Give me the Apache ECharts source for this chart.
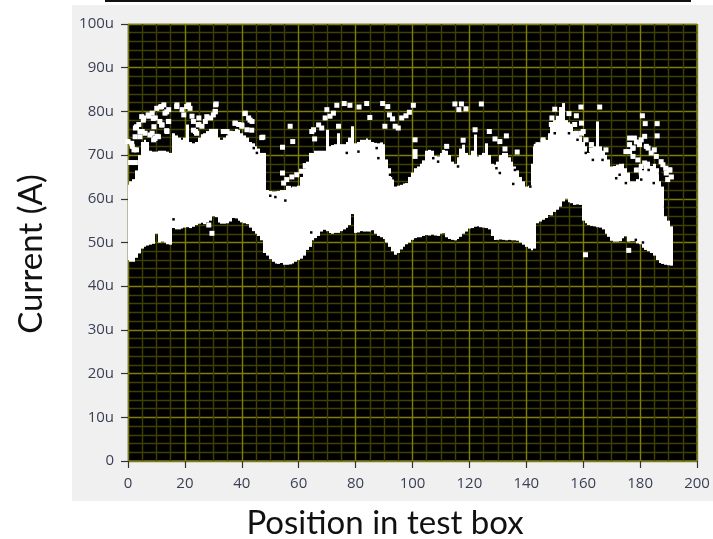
<!DOCTYPE html>
<html><head><meta charset="utf-8">
<style>html,body{margin:0;padding:0;background:#fff}#c{width:713px;height:539px}</style>
<script src="https://cdn.jsdelivr.net/npm/echarts@6/dist/echarts.min.js"></script>
</head><body><div id="c"></div>
<script>
var xTicks = [0,20,40,60,80,100,120,140,160,180,200];
var bandLow = [
46,45.6,45.6,46.5,47.5,48.6,49,49.3,49.5,49.7,
52,50,50.2,50,49.6,49.5,53.3,53,53,53.2,
53.4,53.5,53.3,53.6,54,54.3,54.5,54.2,54.6,55,
56,55.8,54.6,54.3,54.3,54.4,54.8,55.6,55.5,55,
54.6,54.4,54.2,53.4,52.6,52,51.5,50.5,47.6,47,
46.2,45.6,45.2,45.1,45.3,44.9,44.9,45,45.2,45.6,
46,46.3,47,48.3,49,50.5,51,51.5,52.5,52.9,
52.6,52.2,52,52.2,52.2,52.6,53,53.4,54,56.5,
52.2,52.3,52.6,52.5,52.5,52.5,52.8,52,51.5,51.2,
50.8,50,49,48,47.2,47.6,48.4,49,49.6,50,
50.6,51,51.2,51.2,51.5,51.7,51.6,51.8,51.6,51.5,
52,52.1,51.2,50.8,50.6,50.5,50.8,51.3,52,52.5,
53.2,53.3,53.6,53.7,53.5,53.4,53.3,53,51.5,50.6,
50.6,50.7,50.6,50.5,50.6,50.5,50.5,50.4,50,49.5,
49,48.6,48.2,48.6,54.4,54.8,55.2,55.6,56.3,56.2,
57,57.5,58.2,59.4,60,59.2,59,58.6,58.7,58.6,
55,54.4,54,53.8,53.7,53.5,53.4,53,52,51.3,
50.4,50.2,50.2,50.3,51,51.4,50.2,50.3,50.3,49.8,
49.6,48.8,48.3,48,47.6,47,46,45.3,45.1,44.9,
44.8,44.7];
var bandHigh = [
63.2,64,64.5,66.5,70,73,73.5,73,71,70.8,
70.8,71,71,71,70.8,70.5,75,74.5,74,73.5,
74,77,73,72.7,73,74,74.5,75,75.5,76,
76,76,74,73.5,74,74.5,75,75.5,76,75.8,
75,74.5,74,73,72.7,72,71.5,70.5,70.5,62,
61.8,61.7,61.7,61.8,62,62,62.4,62.6,62.8,62.8,
63,65,67,68.5,70.5,70.5,71,71,71,71,
75.8,72,72.3,72.5,75,72.5,72.5,73,74,76.6,
72.7,73,73.5,73.5,73.8,73.5,73,72.8,72.7,72.9,
72.5,69,67,65,62.8,63,63.2,63.5,63.6,65,
66,67,67.4,68,68.8,71,71.2,71,69.8,69.7,
70.5,71.2,71,70,68.5,68,69.5,71.5,72.4,70.5,
70,71,74.7,69.7,70,70.5,72.7,70,68,67.8,
68.5,70,70.5,70.5,69.5,68.5,67.4,66.5,65,64,
62.8,63,68,72,72.2,72.8,73,73.5,75,77.3,
78,79,81,81.9,78,77.5,76.5,75.5,75,74.3,
73,72,70.5,71,72,77.7,72,71,70,69,
67.4,67.5,67.8,68,68,67,66,64,64,64.5,
68,66.5,68,68.5,67.5,68,67,64,62.8,56,
55,53.7];
var outlierX = [0,1.5,3,2.6,3.8,5,5.5,7.3,8.5,9.6,11.4,12.6,13,14.3,12,14.3,13.7,8.5,10.2,9,17.2,19,21.3,19.6,22.5,24.9,26,23.7,27.2,29,30.7,31,24.9,34.8,37.7,38.9,41.2,42.4,40,41.8,43.6,47.4,2.6,0.9,
4.8,7.1,10.1,11.8,13.6,17.1,20.6,21.8,5.4,8.9,11.2,14.2,11.8,13.6,9.1,3,4.2,2.5,1.3,2.1,4.2,6,7.7,9.5,10.7,23,24.7,27.7,30,30.8,30.6,23,24.1,26.5,37.6,40,41.1,42.9,43.5,33.5,35.9,47,
57,57.9,54.3,54.3,62.3,61,59.3,57.6,55.8,54.7,56.4,65.2,64.6,67,68.1,65.6,69.9,72.2,69.3,71,73.4,76,78,81.2,83.9,85,89.5,91.3,91.9,93,90.3,93.9,95,96.2,97.7,98.9,74,
100.3,114.9,117.2,116.3,118.8,124.2,100.9,100.9,100.9,122,127,133,129,130.7,117.8,132.5,136.8,112,150,149,159.2,165.8,157.6,155,180.8,181.8,186,186,176.3,178,181.6,179.8,176.3,182.8,185,187.4,190.3,191,189,143.5,145.9,160.8,176,175,177.5,180.4,178.7,159.4,160,157.6,162.9,28.4,29.5,
144.1,145.9,148.8,150,155.3,157,159.4,161,162.9,168,176.3,177.5,178.7,180.4,182.2,183.9,185.7,188,189.2,190.5,189.7,177.5,179.2,181.6,180.4];
var outlierY = [73.1,72,71.2,76.2,77,75.4,78.5,78.9,79.6,78.5,81,81.5,79.6,80.4,76.9,77.7,75.4,75,74.3,73.5,81.5,80.4,81.5,79.2,78.9,78.5,76.6,75.4,77.7,78.5,80,81.7,77,75.4,77.3,77,79.6,78.5,76.6,75.8,77.7,74.1,68.3,68.3,
78.8,79.2,80.7,81.1,79.9,81.1,81.1,80.7,78,78.4,77.7,77.7,76.9,75.6,76.5,76.5,75.4,74.2,72.7,71.2,74.2,75,74.6,73.8,74.2,77.7,76.9,78.8,79.2,81.5,79.9,75.7,75,74.2,77.3,76.9,79.5,78,75.7,75.4,75,74,
76.6,73.1,71.8,65.9,67.6,66.3,65.5,65,64.4,63.6,62.4,75.8,75.4,76.9,76.2,73.7,80.4,79.6,78.5,78.9,81.4,81.8,81.4,81,81.8,78.6,81.8,81.1,79.2,78.3,76.6,76.6,76.2,78.5,79,79.8,76.6,
81.4,81.7,81.7,80.4,80.6,81.7,73.5,70.8,69.7,75.8,75.4,74.4,73.7,73.1,73.4,71.4,70.7,72,80.5,78.5,81,81,79,79.5,79,77.2,77.2,74.4,73.9,73.9,74.3,72.4,70.8,71.6,71.2,68.5,66.6,65,67,72,73.1,47.2,48.2,70.8,71.6,67.4,66.6,77.3,75.4,75,72.4,54,52.1,
72.4,73.5,77,75,76.6,77,75,73.5,71.2,71.2,72.4,71.6,73,73.5,72,70.5,69.7,67.8,65.9,66.6,64.4,69.7,68.9,68.2,65.9];
var holeX = [44.2,45.3,76.9,81,88,87.4,92.1,93.3,51.8,50,55.3,16,64.4,107.3,109,116,129.5,130.7,136,135.4,141.4,150,155,158,160.9,163.4,166.8,171.6,172.8,175,177.5,180.4,183,184.8,187,188.8,178.5,181];
var holeY = [71.6,70.5,70.5,70.8,69.3,71.6,65.5,64.7,60.4,60.7,59.6,55.3,52.3,69.3,68.5,67.4,67,65.9,66.6,63.4,62.8,75,75,73.5,70.5,68.9,68.9,64.7,65.5,63.6,67.4,64.4,66.6,63.6,65.9,58.2,50.6,50];

var bandData = bandLow.map(function(v,i){return [i,v,bandHigh[i]];});
var cloudData = outlierX.map(function(v,i){return [v,outlierY[i]];});
var holeData = holeX.map(function(v,i){return [v,holeY[i]];});
var labelStyle = {color:'#3a3f55',fontFamily:'"Open Sans"',fontSize:15};
var chart = echarts.init(document.getElementById('c'),null,{renderer:'canvas'});
chart.setOption({
  animation:false,
  backgroundColor:'#fff',
  graphic:[
    {type:'rect',z:-10,shape:{x:72,y:5,width:641,height:496},style:{fill:'#f0f0f0'}},
    {type:'rect',z:-10,shape:{x:105,y:0,width:586,height:2},style:{fill:'#111'}},
    {type:'text',z:10,x:385,y:523,style:{text:'Position in test box',fill:'#111',font:'33px Lato',textAlign:'center',textVerticalAlign:'middle'}},
    {type:'text',z:10,x:31,y:254,rotation:Math.PI/2,style:{text:'Current (A)',fill:'#111',font:'33px Lato',textAlign:'center',textVerticalAlign:'middle'}}
  ],
  grid:{left:128,top:24,width:569,height:437,backgroundColor:'#000',show:true,borderColor:'#a5a5a5',borderWidth:1},
  xAxis:{type:'value',min:0,max:200,interval:20,offset:3,
    axisLine:{show:false},
    axisTick:{show:true,length:7,lineStyle:{color:'#333',width:1.2}},
    axisLabel:Object.assign({margin:12,formatter:function(v){return xTicks.indexOf(v)>=0?String(v):'';}},labelStyle),
    splitLine:{show:true,lineStyle:{color:'#808000',width:1.4}},
    minorTick:{show:false,splitNumber:4},
    minorSplitLine:{show:true,lineStyle:{color:'#404000',width:1.4}}},
  yAxis:{type:'value',min:0,max:100,interval:10,offset:3,
    axisLine:{show:false},
    axisTick:{show:true,length:7,lineStyle:{color:'#333',width:1.2}},
    axisLabel:Object.assign({margin:11,formatter:function(v){return v===0?'0':v+'u';}},labelStyle),
    splitLine:{show:true,lineStyle:{color:'#808000',width:1.4}},
    minorTick:{show:false,splitNumber:5},
    minorSplitLine:{show:true,lineStyle:{color:'#404000',width:1.4}}},
  series:[
    {type:'custom',z:3,coordinateSystem:'cartesian2d',data:bandData,encode:{x:0,y:[1,2]},silent:true,clip:true,
     renderItem:function(p,api){
       var a=api.coord([api.value(0)-0.5,api.value(2)]),b=api.coord([api.value(0)+0.5,api.value(1)]);
       var x0=Math.round(a[0]),x1=Math.round(b[0]);
       return {type:'rect',shape:{x:x0,y:a[1],width:x1-x0,height:b[1]-a[1]},style:{fill:'#fff'}};
     }},
    {type:'scatter',z:4,data:cloudData,symbol:'rect',symbolSize:5,itemStyle:{color:'#fff',opacity:1},silent:true},
    {type:'scatter',z:5,data:holeData,symbol:'rect',symbolSize:2.5,itemStyle:{color:'#000',opacity:1},silent:true}
  ]
});
</script></body></html>
